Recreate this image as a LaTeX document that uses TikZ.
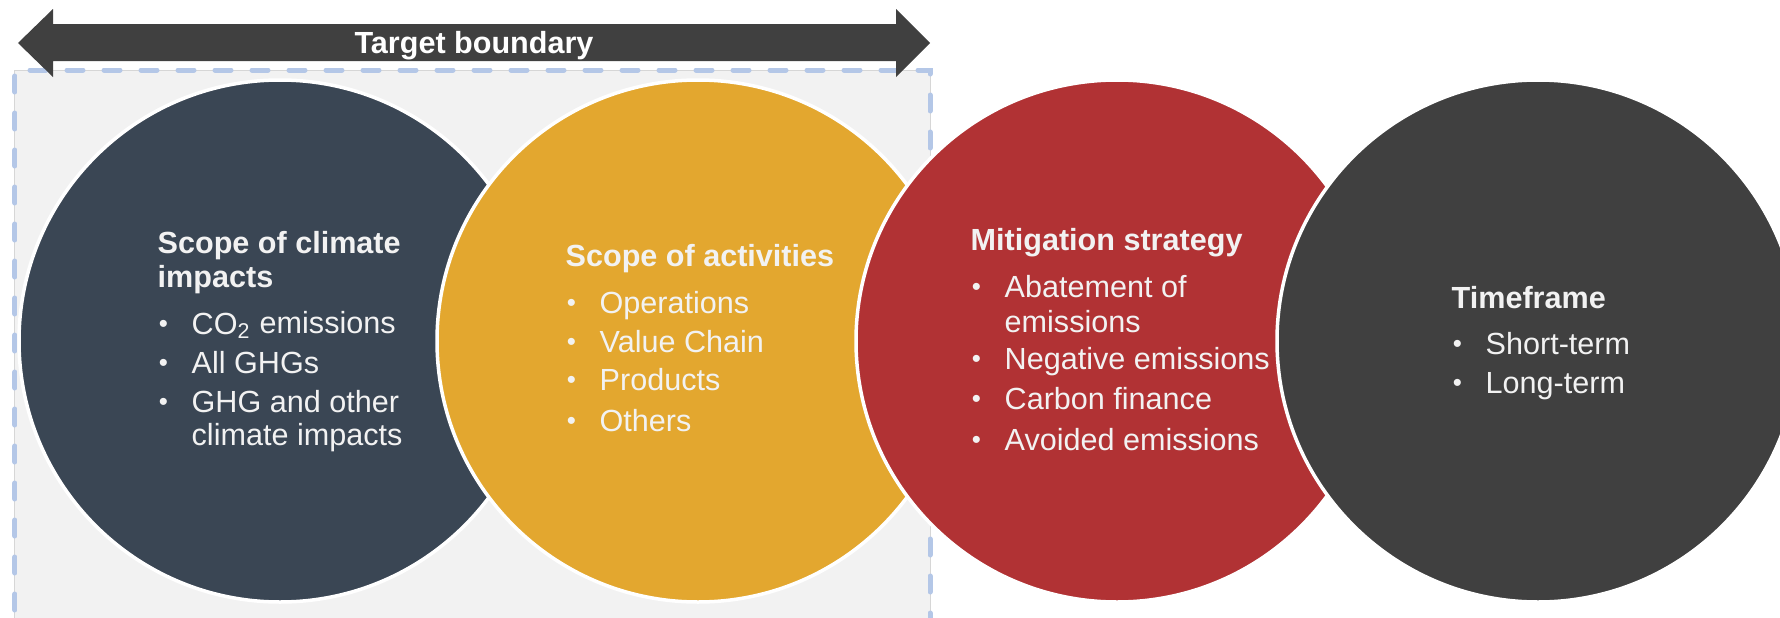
\documentclass[tikz,border=0pt]{standalone}
\usepackage{fontspec}
\usepackage{graphicx}
\setmainfont{Liberation Sans}
\usetikzlibrary{positioning}
\definecolor{Slate}{HTML}{3A4654}
\definecolor{Amber}{HTML}{E3A72F}
\definecolor{Brick}{HTML}{B13234}
\definecolor{Coal}{HTML}{404040}
\definecolor{Paper}{HTML}{F2F2F2}
\definecolor{Frame}{HTML}{B4C7E7}
\definecolor{Edge}{HTML}{D6D6D6}
\newcommand{\bul}{\makebox[3.4mm][l]{\hspace{.04em}\raisebox{.05em}{\scalebox{.85}{\textbullet}}}}
\tikzset{
  bubble/.style={circle,minimum size=5.22cm,inner sep=0pt,draw=white,line width=.35mm},
  ttl/.style={anchor=base west,inner sep=0pt,text=Paper,font=\fontsize{8.7}{9}\selectfont\bfseries},
  txt/.style={anchor=base west,inner sep=0pt,text=Paper,font=\fontsize{8.7}{9}\selectfont},
}

\begin{document}
\begin{tikzpicture}[x=1cm,y=1cm]
    \useasboundingbox (0,0) rectangle (17.8,6.17);
    \clip (0,0) rectangle (17.8,6.17);
    \fill[white] (0,0) rectangle (17.8,6.17);
    \draw[fill=Paper,draw=Edge,line width=.1mm] (0.15,-0.3) rectangle (9.30,5.47);
    \draw[Frame,line width=.5mm,line cap=round,dash pattern=on 1.6mm off 2.1mm] (0.15,-0.3) -- (0.15,5.47) -- (9.30,5.47) -- (9.30,-0.3);
    \fill[Coal] (0.18,5.74) -- (0.53,6.08) -- (0.53,5.93) -- (8.96,5.93) -- (8.96,6.08) -- (9.30,5.74)
      -- (8.96,5.40) -- (8.96,5.56) -- (0.53,5.56) -- (0.53,5.40) -- cycle;
    \node[anchor=base,inner sep=0pt,text=white,font=\fontsize{8.7}{9}\selectfont\bfseries] (bound) at (4.74,5.64) {Target boundary};
    \node[bubble,fill=Slate] (scope) at (2.80,2.76) {};
    \node[bubble,fill=Amber] (activ) at (6.98,2.76) {};
    \node[bubble,fill=Brick] (mitig) at (11.17,2.76) {};
    \node[bubble,fill=Coal] (time) at (15.38,2.76) {};
    \node[ttl] (scope-t1) at (1.57,3.634) {Scope of climate};
    \node[ttl] (scope-t2) at (1.57,3.30) {impacts};
    \node[txt] (scope-a) at (1.57,2.83) {\bul CO\textsubscript{2} emissions};
    \node[txt] (scope-b) at (1.57,2.44) {\bul All GHGs};
    \node[txt] (scope-c) at (1.57,2.05) {\bul GHG and other};
    \node[txt] (scope-d) at (1.91,1.72) {climate impacts};
    \node[ttl] (activ-t) at (5.65,3.51) {Scope of activities};
    \node[txt] (activ-a) at (5.65,3.04) {\bul Operations};
    \node[txt] (activ-b) at (5.65,2.65) {\bul Value Chain};
    \node[txt] (activ-c) at (5.65,2.27) {\bul Products};
    \node[txt] (activ-d) at (5.65,1.86) {\bul Others};
    \node[ttl] (mitig-t) at (9.70,3.67) {Mitigation strategy};
    \node[txt] (mitig-a) at (9.70,3.20) {\bul Abatement of};
    \node[txt] (mitig-b) at (10.04,2.85) {emissions};
    \node[txt] (mitig-c) at (9.70,2.48) {\bul Negative emissions};
    \node[txt] (mitig-d) at (9.70,2.08) {\bul Carbon finance};
    \node[txt] (mitig-e) at (9.70,1.67) {\bul Avoided emissions};
    \node[ttl] (time-t) at (14.51,3.09) {Timeframe};
    \node[txt] (time-a) at (14.51,2.63) {\bul Short-term};
    \node[txt] (time-b) at (14.51,2.24) {\bul Long-term};
  \end{tikzpicture}
\end{document}
